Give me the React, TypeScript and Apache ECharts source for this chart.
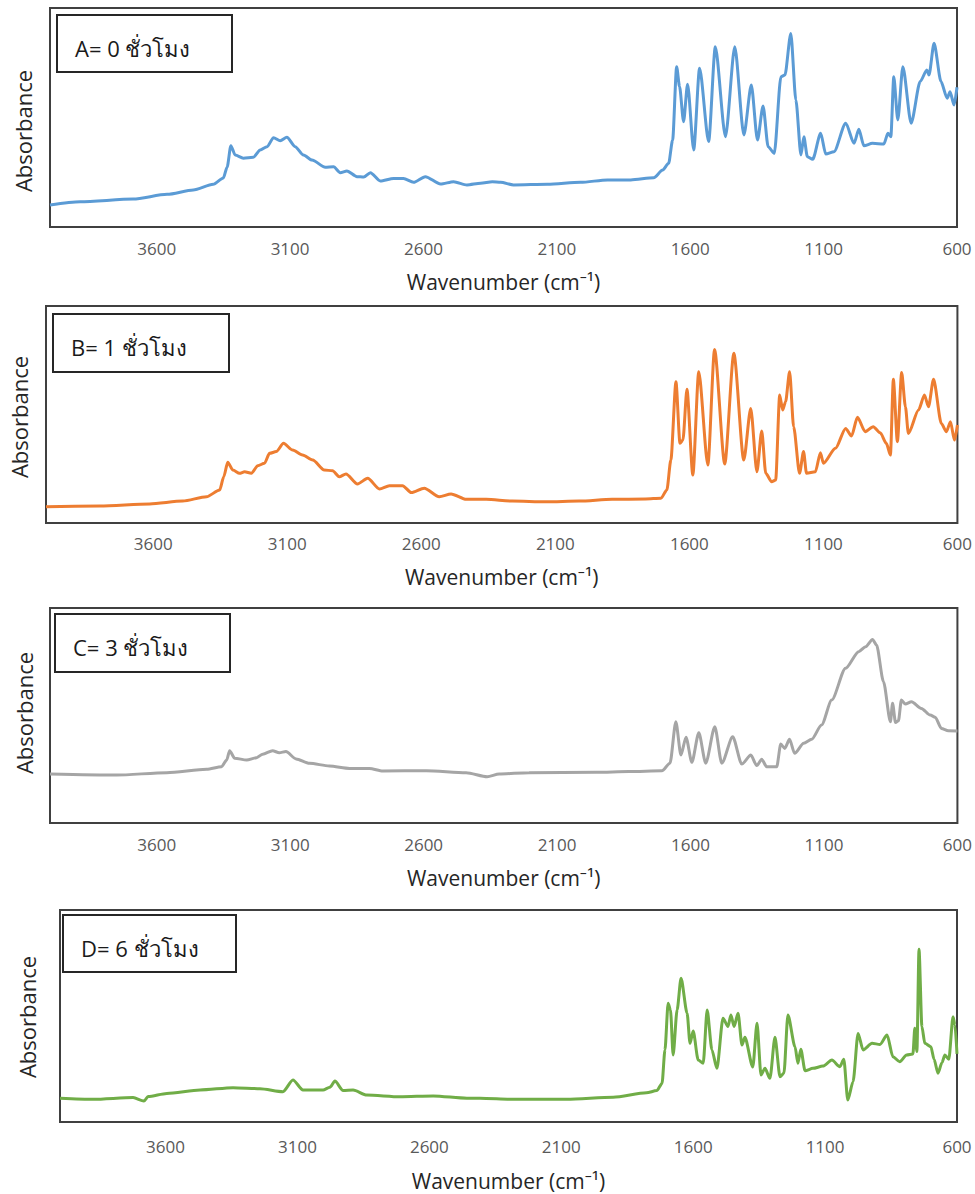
import React, { useEffect, useRef } from "react";
import * as echarts from "echarts";

// FTIR spectra: [wavenumber (cm-1), absorbance (a.u.)]
const spectrumA: [number, number][] = [
  [4000, 0.1], [3887, 0.115], [3688, 0.128], [3561, 0.149], [3463, 0.169], [3388, 0.195],
  [3350, 0.224], [3336, 0.274], [3322, 0.371], [3306, 0.329], [3275, 0.314], [3238, 0.318],
  [3212, 0.352], [3186, 0.367], [3162, 0.408], [3137, 0.394], [3112, 0.41], [3081, 0.367],
  [3050, 0.329], [3018, 0.306], [2968, 0.273], [2937, 0.275], [2912, 0.248], [2887, 0.256],
  [2849, 0.23], [2824, 0.228], [2799, 0.248], [2762, 0.21], [2712, 0.222], [2675, 0.222],
  [2637, 0.204], [2593, 0.23], [2536, 0.196], [2487, 0.207], [2437, 0.192], [2386, 0.2],
  [2342, 0.207], [2311, 0.204], [2262, 0.192], [2135, 0.195], [2011, 0.204], [1910, 0.215],
  [1823, 0.215], [1737, 0.225], [1703, 0.26], [1681, 0.291], [1666, 0.397], [1651, 0.732],
  [1640, 0.641], [1625, 0.481], [1610, 0.652], [1587, 0.352], [1565, 0.725], [1531, 0.39],
  [1506, 0.823], [1468, 0.412], [1433, 0.823], [1399, 0.42], [1371, 0.648], [1348, 0.397],
  [1327, 0.553], [1308, 0.367], [1285, 0.336], [1260, 0.686], [1245, 0.694], [1223, 0.884],
  [1204, 0.58], [1185, 0.329], [1174, 0.412], [1161, 0.321], [1141, 0.309], [1111, 0.428],
  [1092, 0.333], [1061, 0.344], [1017, 0.474], [986, 0.382], [968, 0.446], [949, 0.371],
  [917, 0.382], [874, 0.379], [859, 0.428], [848, 0.412], [837, 0.686], [822, 0.489],
  [803, 0.732], [772, 0.474], [738, 0.664], [713, 0.717], [705, 0.694], [686, 0.839],
  [660, 0.664], [637, 0.588], [626, 0.618], [611, 0.557], [600, 0.638],
];

const spectrumB: [number, number][] = [
  [4000, 0.075], [3799, 0.078], [3613, 0.088], [3490, 0.101], [3401, 0.121], [3352, 0.152],
  [3337, 0.213], [3322, 0.28], [3303, 0.244], [3278, 0.229], [3259, 0.236], [3234, 0.229],
  [3210, 0.264], [3185, 0.275], [3166, 0.321], [3141, 0.329], [3114, 0.367], [3080, 0.336],
  [3043, 0.313], [3005, 0.29], [2962, 0.244], [2931, 0.241], [2906, 0.213], [2881, 0.226],
  [2838, 0.18], [2800, 0.206], [2756, 0.157], [2719, 0.172], [2670, 0.172], [2637, 0.14],
  [2589, 0.16], [2533, 0.121], [2489, 0.134], [2432, 0.109], [2358, 0.109], [2260, 0.101],
  [2135, 0.098], [2011, 0.101], [1888, 0.109], [1763, 0.111], [1706, 0.114], [1684, 0.152],
  [1669, 0.29], [1650, 0.651], [1635, 0.367], [1624, 0.382], [1609, 0.616], [1587, 0.221],
  [1565, 0.697], [1531, 0.267], [1506, 0.8], [1468, 0.272], [1434, 0.782], [1397, 0.29],
  [1371, 0.528], [1348, 0.236], [1330, 0.424], [1315, 0.229], [1293, 0.19], [1278, 0.198],
  [1263, 0.59], [1252, 0.521], [1241, 0.559], [1226, 0.697], [1211, 0.444], [1189, 0.229],
  [1174, 0.329], [1163, 0.229], [1130, 0.236], [1111, 0.324], [1100, 0.275], [1055, 0.344],
  [1017, 0.436], [995, 0.401], [973, 0.487], [944, 0.421], [914, 0.444], [888, 0.416],
  [865, 0.367], [850, 0.313], [839, 0.662], [824, 0.375], [808, 0.693], [794, 0.536],
  [783, 0.413], [745, 0.521], [723, 0.59], [708, 0.536], [689, 0.662], [660, 0.459],
  [641, 0.421], [626, 0.467], [611, 0.382], [600, 0.452],
];

const spectrumC: [number, number][] = [
  [4000, 0.228], [3751, 0.223], [3562, 0.234], [3413, 0.25], [3357, 0.262], [3338, 0.293],
  [3327, 0.336], [3308, 0.301], [3263, 0.293], [3226, 0.304], [3203, 0.32], [3166, 0.336],
  [3141, 0.327], [3116, 0.332], [3078, 0.298], [3028, 0.278], [2953, 0.265], [2878, 0.254],
  [2803, 0.254], [2753, 0.242], [2590, 0.243], [2441, 0.234], [2362, 0.215], [2317, 0.228],
  [2205, 0.234], [1954, 0.236], [1831, 0.239], [1707, 0.243], [1677, 0.278], [1655, 0.471],
  [1636, 0.316], [1617, 0.399], [1595, 0.282], [1569, 0.42], [1543, 0.278], [1509, 0.448],
  [1483, 0.278], [1442, 0.401], [1408, 0.274], [1374, 0.316], [1352, 0.267], [1333, 0.296],
  [1315, 0.262], [1277, 0.262], [1262, 0.367], [1247, 0.347], [1229, 0.389], [1210, 0.324],
  [1176, 0.371], [1146, 0.389], [1109, 0.456], [1071, 0.572], [1019, 0.72], [970, 0.797],
  [944, 0.82], [918, 0.854], [903, 0.828], [877, 0.657], [851, 0.471], [843, 0.557],
  [832, 0.467], [821, 0.476], [810, 0.572], [795, 0.553], [772, 0.564], [735, 0.533],
  [702, 0.502], [683, 0.492], [660, 0.44], [634, 0.429], [600, 0.428],
];

const spectrumD: [number, number][] = [
  [4000, 0.112], [3874, 0.107], [3723, 0.115], [3682, 0.099], [3666, 0.12], [3595, 0.135],
  [3469, 0.151], [3344, 0.162], [3242, 0.157], [3155, 0.143], [3117, 0.198], [3079, 0.151],
  [3003, 0.151], [2977, 0.164], [2958, 0.193], [2927, 0.148], [2889, 0.151], [2837, 0.127],
  [2711, 0.119], [2585, 0.123], [2458, 0.112], [2408, 0.112], [2283, 0.107], [2079, 0.107],
  [1903, 0.117], [1777, 0.138], [1738, 0.148], [1718, 0.182], [1707, 0.34], [1695, 0.56],
  [1686, 0.528], [1676, 0.316], [1661, 0.528], [1646, 0.678], [1623, 0.513], [1612, 0.371],
  [1600, 0.429], [1581, 0.292], [1562, 0.277], [1547, 0.528], [1529, 0.34], [1510, 0.253],
  [1487, 0.489], [1468, 0.45], [1457, 0.505], [1445, 0.45], [1430, 0.513], [1415, 0.363],
  [1404, 0.4], [1374, 0.259], [1358, 0.466], [1343, 0.222], [1328, 0.253], [1309, 0.206],
  [1290, 0.4], [1271, 0.214], [1256, 0.23], [1241, 0.505], [1214, 0.355], [1203, 0.277],
  [1192, 0.343], [1176, 0.242], [1146, 0.253], [1108, 0.264], [1074, 0.292], [1044, 0.261],
  [1029, 0.296], [1014, 0.104], [994, 0.19], [975, 0.418], [956, 0.34], [922, 0.371],
  [892, 0.366], [865, 0.41], [843, 0.308], [817, 0.284], [791, 0.316], [767, 0.321],
  [760, 0.442], [752, 0.332], [744, 0.815], [733, 0.45], [722, 0.371], [699, 0.355],
  [687, 0.296], [672, 0.23], [657, 0.28], [646, 0.316], [631, 0.296], [615, 0.497],
  [608, 0.458], [600, 0.321],
];

const panelLabels = ["A= 0 ชั่วโมง", "B= 1 ชั่วโมง", "C= 3 ชั่วโมง", "D= 6 ชั่วโมง"];
const spectra = [spectrumA, spectrumB, spectrumC, spectrumD];
const lineColors = ["#5B9BD5", "#ED7D31", "#A5A5A5", "#70AD47"];
const tickValues = [3600, 3100, 2600, 2100, 1600, 1100, 600];
const xTitle = "Wavenumber (cm⁻¹)";
const yTitle = "Absorbance";

// Layout of the four stacked panels (pixels)
const panels = [
  { left: 50, top: 8, width: 907, height: 219, labelMargin: 13, nameGap: 44,
    box: [57, 15, 175, 57], yTitle: [23, 131] },
  { left: 46, top: 306, width: 913, height: 217, labelMargin: 12, nameGap: 43,
    box: [53, 314, 176, 58], yTitle: [19, 417] },
  { left: 50, top: 608, width: 909, height: 215, labelMargin: 13, nameGap: 44,
    box: [55, 614, 175, 58], yTitle: [24, 713] },
  { left: 60, top: 910, width: 897, height: 212, labelMargin: 16, nameGap: 48,
    box: [63, 915, 173, 57], yTitle: [27, 1017] },
];

const FONT = "'Open Sans', 'Noto Sans', 'DejaVu Sans', sans-serif";

export default function App() {
  const ref = useRef<HTMLDivElement>(null);

  useEffect(() => {
    if (!ref.current) return;
    const chart = echarts.init(ref.current, undefined, { renderer: "svg" });

    const grid = panels.map((p) => ({
      left: p.left,
      top: p.top,
      width: p.width,
      height: p.height,
      show: true,
      borderColor: "#404040",
      borderWidth: 2,
      backgroundColor: "#ffffff",
    }));

    const xAxis = panels.map((p, i) => ({
      type: "value",
      gridIndex: i,
      min: 600,
      max: 4000,
      interval: 500,
      inverse: true,
      axisLine: { show: false },
      axisTick: { show: false },
      splitLine: { show: false },
      axisLabel: {
        margin: p.labelMargin,
        color: "#595959",
        fontSize: 17,
        fontFamily: FONT,
        formatter: (v: number) => (tickValues.includes(v) ? String(v) : ""),
      },
      name: xTitle,
      nameLocation: "middle",
      nameGap: p.nameGap,
      nameTextStyle: { color: "#262626", fontSize: 21, fontFamily: FONT },
    }));

    const yAxis = panels.map((_, i) => ({
      type: "value",
      gridIndex: i,
      min: 0,
      max: 1,
      axisLine: { show: false },
      axisTick: { show: false },
      axisLabel: { show: false },
      splitLine: { show: false },
    }));

    const series = spectra.map((data, i) => ({
      type: "line",
      xAxisIndex: i,
      yAxisIndex: i,
      data,
      showSymbol: false,
      smooth: 0.25,
      smoothMonotone: "x",
      lineStyle: { color: lineColors[i], width: 3 },
      itemStyle: { color: lineColors[i] },
    }));

    const graphic: any[] = [];
    panels.forEach((p, i) => {
      const [bx, by, bw, bh] = p.box;
      graphic.push({
        type: "rect",
        shape: { x: bx, y: by, width: bw, height: bh },
        style: { fill: "#ffffff", stroke: "#262626", lineWidth: 2 },
        z: 100,
      });
      graphic.push({
        type: "text",
        x: bx + 18,
        y: by + bh / 2 + 4,
        style: {
          text: panelLabels[i],
          fill: "#1a1a1a",
          font: `22px ${FONT}`,
          textAlign: "left",
          textVerticalAlign: "middle",
        },
        z: 101,
      });
      graphic.push({
        type: "text",
        x: p.yTitle[0],
        y: p.yTitle[1],
        rotation: Math.PI / 2,
        style: {
          text: yTitle,
          fill: "#262626",
          font: `22px ${FONT}`,
          textAlign: "center",
          textVerticalAlign: "middle",
        },
        z: 101,
      });
    });

    chart.setOption({
      animation: false,
      backgroundColor: "#ffffff",
      grid,
      xAxis,
      yAxis,
      series,
      graphic,
    });

    return () => chart.dispose();
  }, []);

  return (
    <div
      ref={ref}
      style={{ position: "absolute", left: 0, top: 0, width: 975, height: 1194 }}
    />
  );
}
